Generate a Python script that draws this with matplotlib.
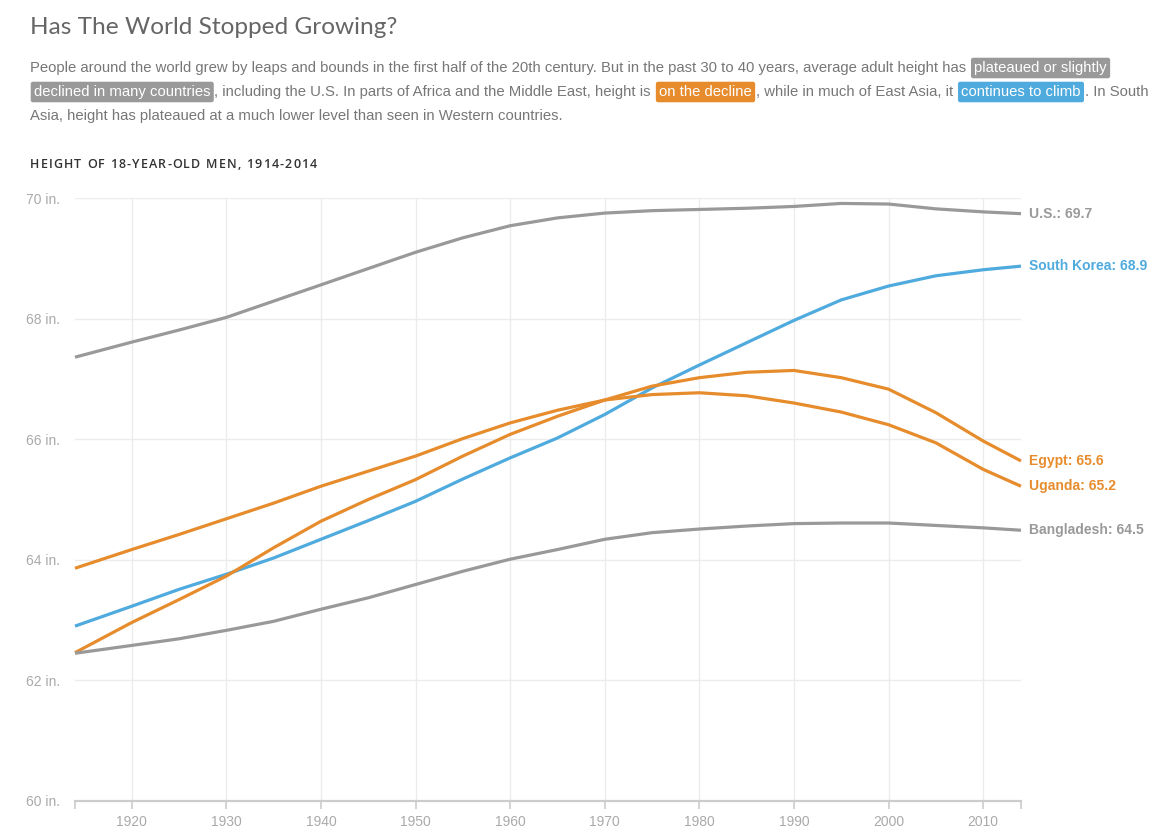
#!/usr/bin/env python3
"""Height of 18-year-old men, 1914-2014: line chart with end labels."""

import matplotlib
matplotlib.use("Agg")
import matplotlib.pyplot as plt

years = [1914, 1920, 1925, 1930, 1935, 1940, 1945, 1950, 1955, 1960, 1965,
         1970, 1975, 1980, 1985, 1990, 1995, 2000, 2005, 2010, 2014]

us = [67.36, 67.61, 67.81, 68.02, 68.29, 68.56, 68.83, 69.10, 69.34, 69.54, 69.67,
      69.75, 69.79, 69.81, 69.83, 69.86, 69.91, 69.90, 69.82, 69.77, 69.74]
south_korea = [62.90, 63.23, 63.51, 63.76, 64.03, 64.34, 64.65, 64.97, 65.34, 65.69, 66.02,
               66.41, 66.85, 67.23, 67.60, 67.97, 68.31, 68.54, 68.71, 68.81, 68.87]
egypt = [62.46, 62.96, 63.34, 63.73, 64.20, 64.64, 65.00, 65.33, 65.72, 66.08, 66.38,
         66.65, 66.88, 67.02, 67.11, 67.14, 67.02, 66.83, 66.44, 65.97, 65.64]
uganda = [63.86, 64.17, 64.42, 64.68, 64.94, 65.22, 65.47, 65.72, 66.01, 66.27, 66.48,
          66.65, 66.74, 66.77, 66.72, 66.60, 66.45, 66.24, 65.94, 65.50, 65.22]
bangladesh = [62.45, 62.58, 62.69, 62.83, 62.98, 63.18, 63.37, 63.59, 63.81, 64.01, 64.17,
              64.34, 64.45, 64.51, 64.56, 64.60, 64.61, 64.61, 64.57, 64.53, 64.49]

names = ["U.S.", "South Korea", "Egypt", "Uganda", "Bangladesh"]
end_values = ["69.7", "68.9", "65.6", "65.2", "64.5"]

GRAY = "#999999"
BLUE = "#4faade"
ORANGE = "#e68c2d"
TEXT = "#777777"

series = [(us, GRAY), (south_korea, BLUE), (egypt, ORANGE), (uganda, ORANGE), (bangladesh, GRAY)]

fig = plt.figure(figsize=(11.66, 8.4), dpi=100)
ax = fig.add_axes([75 / 1166, 1 - 801 / 840, (1021 - 75) / 1166, (801 - 198) / 840])

for (values, color), name, end in zip(series, names, end_values):
    ax.plot(years, values, color=color, lw=2.3, solid_capstyle="butt",
            solid_joinstyle="round", clip_on=False, zorder=3)
    ax.annotate(f"{name}: {end}", (years[-1], values[-1]), xytext=(6, 0),
                textcoords="offset points", va="center", ha="left", color=color,
                fontsize=10.0, fontweight="bold", family="Liberation Sans")

ax.set_xlim(1914, 2014)
ax.set_ylim(60, 70)
ax.set_xticks(range(1920, 2011, 10))
ax.set_xticks([1914, 2014], minor=True)
ax.set_yticks(range(60, 71, 2))
ax.set_yticklabels([f"{v} in." for v in range(60, 71, 2)])

for v in range(62, 71, 2):
    ax.axhline(v, color="#ececec", lw=1, zorder=1)
for yr in range(1920, 2011, 10):
    ax.axvline(yr, color="#ececec", lw=1, zorder=1)

for side in ["top", "right", "left"]:
    ax.spines[side].set_visible(False)
ax.spines["bottom"].set_color("#cccccc")
ax.spines["bottom"].set_linewidth(1.6)
ax.tick_params(axis="x", which="both", length=6, width=1.2, color="#cccccc",
               labelcolor="#aaaaaa", labelsize=10, pad=4)
ax.tick_params(axis="y", length=0, labelcolor="#aaaaaa", labelsize=10, pad=11)
for label in ax.get_xticklabels() + ax.get_yticklabels():
    label.set_family("Liberation Sans")

renderer = fig.canvas.get_renderer()

# title
fig.text(30 / 1166, 1 - 27 / 840, "Has The World Stopped Growing?", fontsize=17.6,
         family="Lato", color="#666666", va="center")

# chart label, letter-spaced
x = 30
for ch in "HEIGHT OF 18-YEAR-OLD MEN, 1914-2014":
    t = fig.text(x / 1166, 1 - 164 / 840, ch, fontsize=9, family="Open Sans",
                 fontweight="semibold", color="#333333", va="center")
    x += t.get_window_extent(renderer).width + 1.15

# intro paragraph with highlighted spans
lines = [
    [("People around the world grew by leaps and bounds in the first half of the 20th century. "
      "But in the past 30 to 40 years, average adult height has ", None),
     ("plateaued or slightly", GRAY)],
    [("declined in many countries", GRAY),
     (", including the U.S. In parts of Africa and the Middle East, height is ", None),
     ("on the decline", ORANGE),
     (", while in much of East Asia, it ", None),
     ("continues to climb", BLUE),
     (". In South", None)],
    [("Asia, height has plateaued at a much lower level than seen in Western countries.", None)],
]
line_y = [68, 92, 116]
pad_px = 4
for parts, y in zip(lines, line_y):
    x = 30
    for text, box in parts:
        if box is not None:
            x += pad_px
        t = fig.text(x / 1166, 1 - y / 840, text, fontsize=10.72, family="Liberation Sans",
                     color="white" if box else TEXT, va="center")
        if box is not None:
            t.set_bbox(dict(boxstyle="round,pad=0.22,rounding_size=0.15", fc=box, ec="none"))
        x += t.get_window_extent(renderer).width
        if box is not None:
            x += pad_px

fig.savefig("out.png", dpi=100)
